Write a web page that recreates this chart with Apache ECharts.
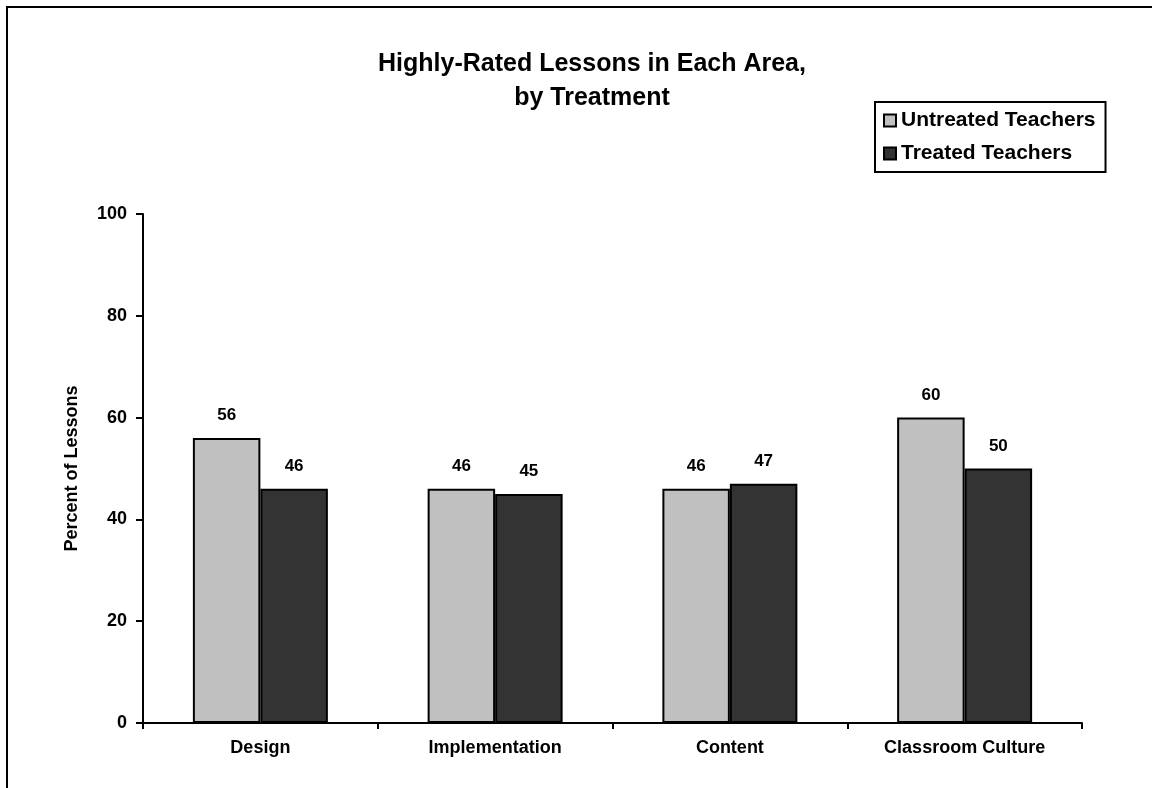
<!DOCTYPE html>
<html>
<head>
<meta charset="utf-8">
<script src="https://cdn.jsdelivr.net/npm/echarts@6/dist/echarts.min.js"></script>
<style>
html,body{margin:0;padding:0;background:#fff;}
#chart{width:1152px;height:788px;}
</style>
</head>
<body>
<div id="chart"></div>
<script>
const categories = ['Design', 'Implementation', 'Content', 'Classroom Culture'];
const untreated = [56, 46, 46, 60];
const treated = [46, 45, 47, 50];
const seriesNames = ['Untreated Teachers', 'Treated Teachers'];
const yTicks = [0, 20, 40, 60, 80, 100];

const FONT = '"Liberation Sans", Arial, sans-serif';
const chart = echarts.init(document.getElementById('chart'));
const labelStyle = {show: true, position: 'top', distance: 14, color: '#000', fontFamily: FONT, fontWeight: 'bold', fontSize: 17};
chart.setOption({
  animation: false,
  backgroundColor: '#fff',
  textStyle: {fontFamily: FONT},
  title: {
    text: 'Highly-Rated Lessons in Each Area,\nby Treatment',
    left: 587, top: 42, textAlign: 'center',
    textStyle: {fontFamily: FONT, fontWeight: 'bold', fontSize: 25, lineHeight: 34, color: '#000'}
  },
  legend: {
    orient: 'vertical', left: 875, top: 102,
    data: seriesNames,
    borderColor: '#000', borderWidth: 2, padding: [8, 10, 8, 8],
    itemWidth: 12, itemHeight: 12, itemGap: 12,
    textStyle: {fontFamily: FONT, fontWeight: 'bold', fontSize: 21, color: '#000', padding: [0, 0, 0, 0]},
    icon: 'rect'
  },
  grid: {left: 143, right: 70, top: 214, bottom: 65, containLabel: false},
  xAxis: {
    type: 'category', data: categories,
    axisLine: {lineStyle: {color: '#000', width: 2}},
    axisTick: {show: true, length: 6, lineStyle: {color: '#000', width: 2}},
    axisLabel: {color: '#000', fontFamily: FONT, fontWeight: 'bold', fontSize: 18, margin: 16}
  },
  yAxis: {
    type: 'value', min: yTicks[0], max: yTicks[yTicks.length - 1], interval: 20,
    name: 'Percent of Lessons', nameLocation: 'middle', nameGap: 62,
    nameTextStyle: {color: '#000', fontFamily: FONT, fontWeight: 'bold', fontSize: 18},
    axisLine: {show: true, lineStyle: {color: '#000', width: 2}},
    axisTick: {show: true, length: 7, lineStyle: {color: '#000', width: 2}},
    splitLine: {show: false},
    axisLabel: {color: '#000', fontFamily: FONT, fontWeight: 'bold', fontSize: 18, margin: 16}
  },
  series: [
    {name: seriesNames[0], type: 'bar', data: untreated, barGap: '0%', barCategoryGap: '42.5%',
     itemStyle: {color: '#c0c0c0', borderColor: '#000', borderWidth: 2}, label: labelStyle},
    {name: seriesNames[1], type: 'bar', data: treated,
     itemStyle: {color: '#333333', borderColor: '#000', borderWidth: 2}, label: labelStyle}
  ],
  graphic: [{
    type: 'rect', shape: {x: 7, y: 7, width: 1300, height: 1000},
    style: {fill: null, stroke: '#000', lineWidth: 2}, silent: true, z: 100
  }]
});
</script>
</body>
</html>
